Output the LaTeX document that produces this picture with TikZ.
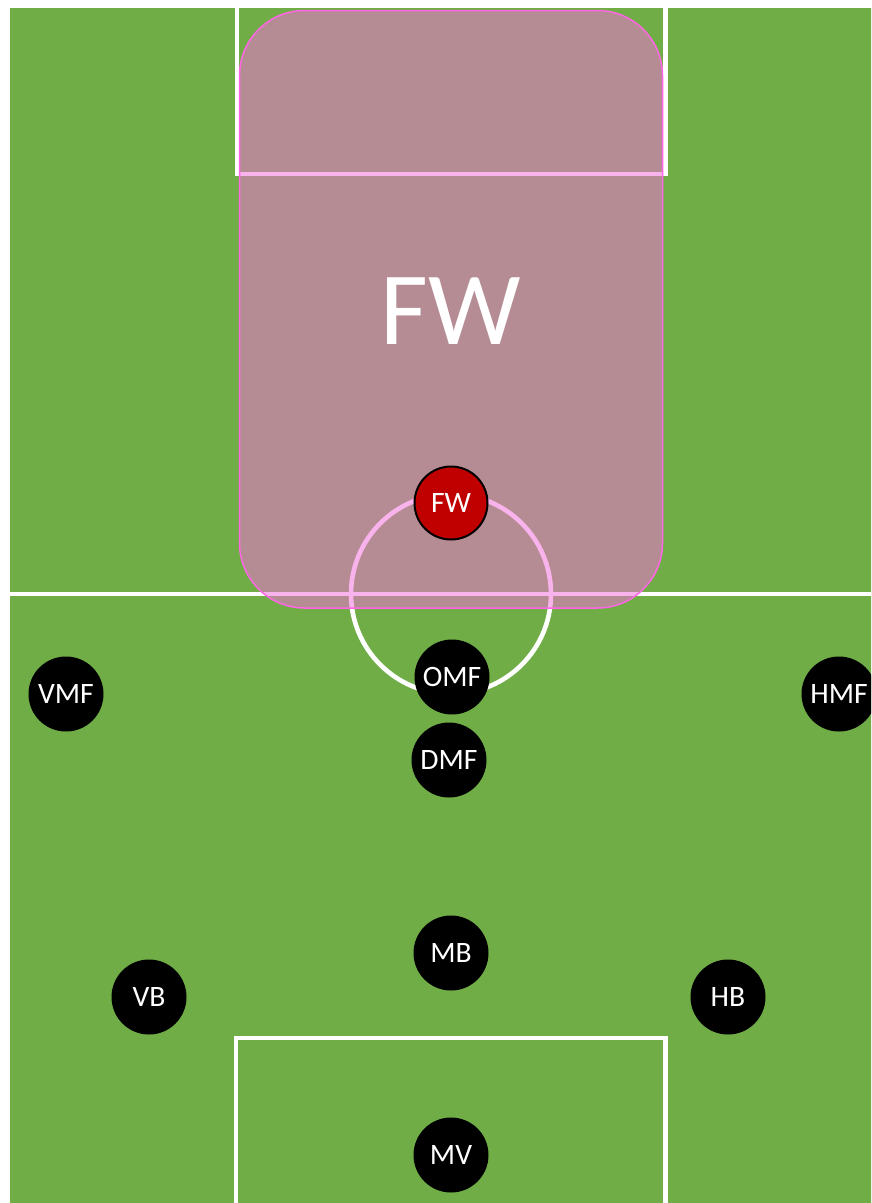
\documentclass[tikz,border=0pt]{standalone}
\usepackage{fontspec}
\setmainfont{Carlito}
\usepackage{xcolor}
\definecolor{pitchcol}{HTML}{70AD47}
\definecolor{zonecol}{HTML}{F56EDC}
\definecolor{zonecoldark}{HTML}{FF66E6}
\definecolor{fwcol}{HTML}{C00000}

\begin{document}
\begin{tikzpicture}[
  x=1pt, y=-1pt,
  pitchline/.style={draw=white, line width=4.6pt},
  zone/.style={
    fill=zonecol, fill opacity=0.52, draw=zonecoldark, draw opacity=1,
    line width=1.5pt, rounded corners=65pt,
  },
  zonelabel/.style={text=white, font=\fontsize{104}{110}\selectfont},
  player/.style={
    circle, fill=black, minimum size=75pt, inner sep=0pt,
    text=white, font=\fontsize{29.6}{30}\selectfont,
  },
  striker/.style={player, fill=fwcol, draw=black, line width=2pt, minimum size=73pt}
]
\useasboundingbox (0,0) rectangle (871,1203);
\clip (0,0) rectangle (871,1203);

% Pitch
\fill[white] (0,0) rectangle (871,1203);
\fill[pitchcol] (10,8) rectangle (880,1210);

% Pitch markings
\draw[pitchline] (237,0) -- (237,174) -- (665.5,174) -- (665.5,0);
\draw[pitchline] (10,594) -- (880,594);
\draw[pitchline] (451,594) circle (100);
\draw[pitchline] (236,1210) -- (236,1038) -- (665.5,1038) -- (665.5,1210);

% Forward zone
\draw[zone] (239.5,10.5) rectangle (662.5,608);
\node[zonelabel] (fwzone) at (451,311) {FW};

% Players
\node[striker] (fw) at (451,503) {FW};
\node[player] (omf) at (452,677) {OMF};
\node[player] (vmf) at (66,694) {VMF};
\node[player] (hmf) at (839,694) {HMF};
\node[player] (dmf) at (449,760) {DMF};
\node[player] (mb) at (451,953) {MB};
\node[player] (vb) at (149,997) {VB};
\node[player] (hb) at (728,997) {HB};
\node[player] (mv) at (451,1155) {MV};

\end{tikzpicture}
\end{document}
